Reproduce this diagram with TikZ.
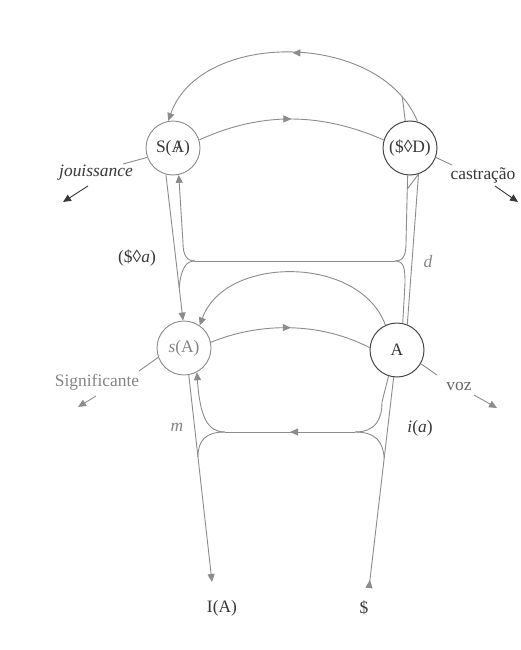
\documentclass[tikz,border=0pt]{standalone}
\usepackage{fontspec}
\setmainfont{Liberation Serif}
\usetikzlibrary{arrows.meta,decorations.markings}
\definecolor{lc}{gray}{0.55}
\definecolor{dk}{gray}{0.22}
\definecolor{lt}{gray}{0.52}
\newcommand\barA{\ooalign{A\cr\hidewidth\kern0.05em/\hidewidth\cr}}
\newcommand\fs{\fontsize{17.5}{20}\selectfont}
\begin{document}
\begin{tikzpicture}[x=1bp,y=-1bp,
  ln/.style={draw=lc,line width=0.9bp},
  tip/.style={-{Triangle[length=8bp,width=7bp]}},
  rtip/.style={{Triangle[reversed,length=8bp,width=7bp]}-},
  midarrow/.style={postaction={decorate},decoration={markings,
     mark=at position 0.5 with {\arrow{Triangle[length=8bp,width=7bp]}}}},
  circ/.style={circle,draw=lc,line width=0.9bp,minimum size=54bp,inner sep=0pt,text=dk,font=\fs},
  circd/.style={circ,draw=black!72,line width=1bp},
  lab/.style={font=\fs,text=dk,inner sep=1bp},
  labl/.style={lab,text=lt},
  darr/.style={draw=dk,line width=0.9bp,tip}]
\fill[white] (0,0) rectangle (521,650);
\useasboundingbox (0,0) rectangle (521,650);

% nodes
\node[circ] (SA) at (173,148) {S(\barA)};
\node[circd] (SD) at (410,148) {(\$◊D)};
\node[circ,text=lt] (sA) at (184,348) {\textit{s}(A)};
\node[circd] (A) at (397,350) {A};

% coordinates
\coordinate (L1) at (195,261);
\coordinate (R1) at (395,261);
\coordinate (L2) at (225,432);
\coordinate (R2) at (355,432);
\coordinate (IAt) at (212,582);
\coordinate (St) at (369,588);
\coordinate (ml1) at (179.2,288);
\coordinate (ml2) at (197.9,457);
\coordinate (mr2) at (384.2,458);
\coordinate (nd) at (407.3,189);

% labels
\node[lab] (IA) at (222,608) {I(A)};
\node[lab] (Sb) at (364,608) {\$};
\node[lab] (jou) at (96,173) {\textit{jouissance}};
\node[lab] (cas) at (483,175) {castração};
\node[lab] (Sa) at (137,258) {(\$◊\textit{a})};
\node[labl] (dl) at (428,262) {\textit{d}};
\node[labl] (sig) at (97,382) {Significante};
\node[lab,text=black!60] (voz) at (459,386) {voz};
\node[labl] (ml) at (177,427) {\textit{m}};
\node[lab] (ia) at (420,428) {\textit{i}(\textit{a})};

% top arc ($◊D) -> S(A)
\draw[ln,tip,midarrow] (SD.74) .. controls (380,30) and (200,30) .. coordinate[pos=0.1] (tj) (SA.100);
\draw[ln] (SD.100) -- (tj);

% S(A) -> ($◊D)
\draw[ln,midarrow] (SA.17) .. controls (260,112) and (320,112) .. (SD.163);
% s(A) -> A
\draw[ln,midarrow] (sA.12) .. controls (260,322) and (320,322) .. (A.175);
% middle arc A -> s(A)
\draw[ln,tip] (A.115) .. controls (360,255) and (225,255) .. (sA.55);

% S(A) -> s(A)
\draw[ln,tip] (SA.-105) -- (sA.92);
% ($◊D) -- A
\draw[ln] (SD.-72) -- (A.68);

% upper horizontal with cusps
\draw[ln] (L1) -- (R1);
\draw[ln,tip] (L1) .. controls (186,261) and (183,254) .. (183,243) -- (SA.-78);
\draw[ln] (L1) .. controls (186,261) and (181,268) .. (ml1);
\draw[ln] (R1) .. controls (404,261) and (406,254) .. (406,243) -- (SD.-95);
\draw[ln] (R1) .. controls (404,261) and (405,268) .. (405,283) -- (A.78);
\draw[ln] (nd) -- (SD.-72);

% lower horizontal with cusps
\draw[ln,midarrow] (R2) -- (L2);
\draw[ln,tip] (L2) .. controls (208,432) and (200,418) .. (sA.-62);
\draw[ln] (L2) .. controls (206,432) and (198,440) .. (ml2);
\draw[ln] (R2) .. controls (375,432) and (382,420) .. (382,402) -- (A.-108);
\draw[ln] (R2) .. controls (376,432) and (383,442) .. (mr2);

% verticals
\draw[ln,tip] (sA.-80) -- (IAt);
\draw[ln,rtip] (St) -- (A.-97);

% side lines
\coordinate (j1) at (123,164);
\coordinate (j2) at (88,186);
\coordinate (j3) at (63,202);
\draw[ln] (SA.200) -- (j1);
\draw[darr] (j2) -- (j3);
\coordinate (c1) at (452,165);
\coordinate (c2) at (495,186);
\coordinate (c3) at (518,202);
\draw[ln] (SD.-20) -- (c1);
\draw[darr] (c2) -- (c3);
\coordinate (s1) at (139,371);
\coordinate (s2) at (96,396);
\coordinate (s3) at (78,407);
\draw[ln] (sA.200) -- (s1);
\draw[ln,tip] (s2) -- (s3);
\coordinate (v1) at (437,375);
\coordinate (v2) at (474,395);
\coordinate (v3) at (497,408);
\draw[ln] (A.-30) -- (v1);
\draw[ln,tip] (v2) -- (v3);
\end{tikzpicture}
\end{document}
